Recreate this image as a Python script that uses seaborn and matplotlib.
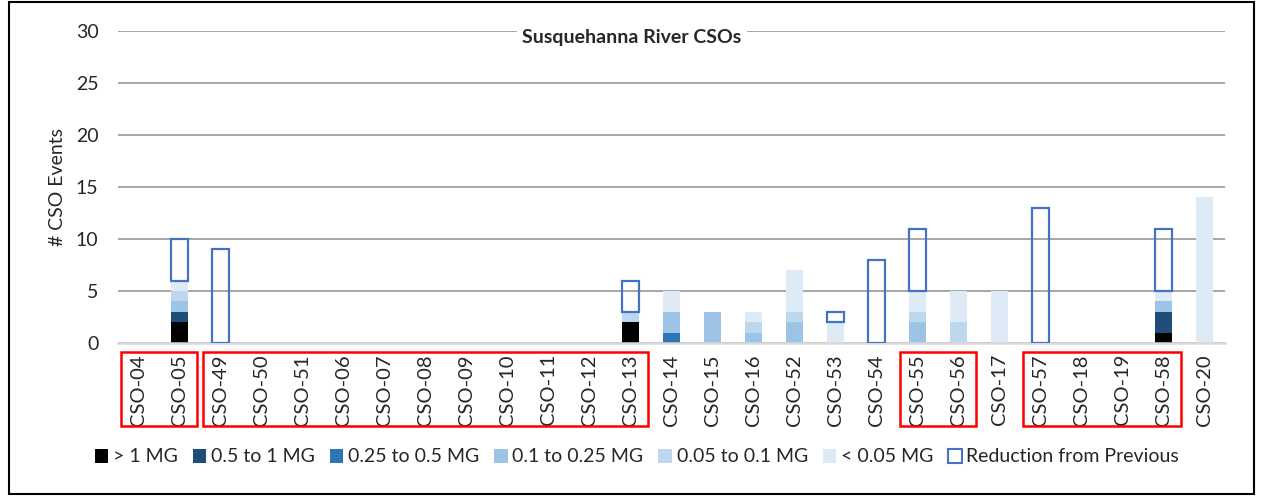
import matplotlib
matplotlib.use("Agg")
import matplotlib.pyplot as plt
import matplotlib.transforms as mtransforms
from matplotlib.patches import Rectangle, Patch
import numpy as np
import seaborn as sns

# Outfall names in plotting order
categories = [
    "CSO-04", "CSO-05", "CSO-49", "CSO-50", "CSO-51", "CSO-06", "CSO-07",
    "CSO-08", "CSO-09", "CSO-10", "CSO-11", "CSO-12", "CSO-13", "CSO-14",
    "CSO-15", "CSO-16", "CSO-52", "CSO-53", "CSO-54", "CSO-55", "CSO-56",
    "CSO-17", "CSO-57", "CSO-18", "CSO-19", "CSO-58", "CSO-20",
]

# Number of overflow events per volume class
over_1mg     = [0, 2, 0, 0, 0, 0, 0, 0, 0, 0, 0, 0, 2, 0, 0, 0, 0, 0, 0, 0, 0, 0, 0, 0, 0, 1, 0]
mg_05_to_1   = [0, 1, 0, 0, 0, 0, 0, 0, 0, 0, 0, 0, 0, 0, 0, 0, 0, 0, 0, 0, 0, 0, 0, 0, 0, 2, 0]
mg_025_to_05 = [0, 0, 0, 0, 0, 0, 0, 0, 0, 0, 0, 0, 0, 1, 0, 0, 0, 0, 0, 0, 0, 0, 0, 0, 0, 0, 0]
mg_01_to_025 = [0, 1, 0, 0, 0, 0, 0, 0, 0, 0, 0, 0, 0, 2, 3, 1, 2, 0, 0, 2, 0, 0, 0, 0, 0, 1, 0]
mg_005_to_01 = [0, 1, 0, 0, 0, 0, 0, 0, 0, 0, 0, 0, 1, 0, 0, 1, 1, 0, 0, 1, 2, 0, 0, 0, 0, 0, 0]
under_005    = [0, 1, 0, 0, 0, 0, 0, 0, 0, 0, 0, 0, 0, 2, 0, 1, 4, 2, 0, 2, 3, 5, 0, 0, 0, 1, 14]
# Events removed compared with the previous period
reduction    = [0, 4, 9, 0, 0, 0, 0, 0, 0, 0, 0, 0, 3, 0, 0, 0, 0, 1, 8, 6, 0, 0, 13, 0, 0, 6, 0]

series_labels = ["> 1 MG", "0.5 to 1 MG", "0.25 to 0.5 MG", "0.1 to 0.25 MG",
                 "0.05 to 0.1 MG", "< 0.05 MG"]
reduction_label = "Reduction from Previous"

# Outfalls grouped together beneath the axis
groups = [("CSO-04", "CSO-05"), ("CSO-49", "CSO-13"),
          ("CSO-55", "CSO-56"), ("CSO-57", "CSO-58")]

colors = ["#000000", "#1f4e79", "#2e75b6", "#9dc3e6", "#bdd7ee", "#deebf7"]
outline = "#4472c4"

sns.set_style("white")
plt.rcParams["font.family"] = ["Lato", "DejaVu Sans"]
FS = 14

W, H = 1274, 496
fig = plt.figure(figsize=(W / 100, H / 100), dpi=100)
ax = fig.add_axes([118 / W, 1 - 343 / H, (1225 - 118) / W, (343 - 31) / H])

bar_w = 0.41
stack = [over_1mg, mg_05_to_1, mg_025_to_05, mg_01_to_025, mg_005_to_01, under_005]
bottom = np.zeros(len(categories))
for vals, color in zip(stack, colors):
    vals = np.asarray(vals, dtype=float)
    sns.barplot(x=categories, y=vals, order=categories, bottom=bottom.copy(),
                color=color, saturation=1, width=bar_w, linewidth=0,
                errorbar=None, ax=ax, zorder=2)
    bottom += vals

# Reduction drawn as an outline on top of each stack
red = np.asarray(reduction, dtype=float)
idx = np.nonzero(red)[0]
sns.barplot(x=[categories[i] for i in idx], y=red[idx], order=categories,
            bottom=bottom[idx], color=outline, fill=False, saturation=1,
            width=bar_w, linewidth=1.6, errorbar=None, ax=ax, zorder=3)

ax.set_xlim(-0.5, len(categories) - 0.5)
ax.set_ylim(0, 30)
ax.set_yticks(range(0, 31, 5))
ax.set_axisbelow(True)
ax.grid(axis="y", color="#a6a6a6", linewidth=1.4)
ax.grid(axis="x", visible=False)
for side in ("top", "right", "left"):
    ax.spines[side].set_visible(False)
ax.spines["bottom"].set_color("#d9d9d9")
ax.spines["bottom"].set_linewidth(1.8)
ax.tick_params(axis="y", length=0, pad=14, labelsize=FS)
ax.tick_params(axis="x", length=0, pad=8, labelsize=14.5, labelrotation=90)
ax.set_xlabel("")
ax.set_ylabel("# CSO Events", fontsize=FS, labelpad=7)

# Red boxes around grouped outfall labels
trans = mtransforms.blended_transform_factory(ax.transData, ax.transAxes)
for a, b in groups:
    i0, i1 = categories.index(a), categories.index(b)
    ax.add_patch(Rectangle((i0 - 0.42, -0.266), (i1 - i0) + 0.84, 0.237,
                           transform=trans, fill=False, edgecolor="#ff0000",
                           linewidth=1.8, clip_on=False, zorder=5))

fig.text(632 / W, 1 - 37 / H, "Susquehanna River CSOs", ha="center", va="center",
         fontsize=FS, fontweight="bold",
         bbox=dict(facecolor="white", edgecolor="none", pad=4))

handles = [Patch(facecolor=c, edgecolor="none", label=l)
           for c, l in zip(colors, series_labels)]
handles.append(Patch(facecolor="white", edgecolor=outline, linewidth=1.5,
                     label=reduction_label))
fig.legend(handles=handles, ncol=7, loc="center",
           bbox_to_anchor=(637 / W, 1 - 457 / H), frameon=False, fontsize=FS,
           handlelength=0.7, handleheight=0.7, handletextpad=0.25,
           columnspacing=0.75)

fig.patches.append(Rectangle((9 / W, 1 - 494 / H), (1254 - 9) / W, (494 - 2) / H,
                             transform=fig.transFigure, fill=False,
                             edgecolor="black", linewidth=1.5))

fig.savefig("out.png", dpi=100)
